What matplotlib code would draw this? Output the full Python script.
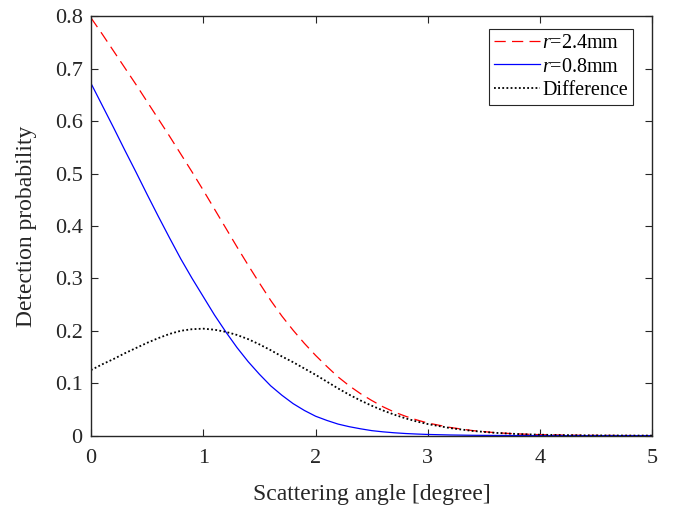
import matplotlib
matplotlib.use("Agg")
import matplotlib.pyplot as plt

plt.rcParams['font.family'] = ['Liberation Serif', 'DejaVu Serif']
plt.rcParams['mathtext.fontset'] = 'custom'
plt.rcParams['mathtext.rm'] = 'Liberation Serif'
plt.rcParams['mathtext.it'] = 'Liberation Serif:italic'

angle = [0.0, 0.1, 0.2, 0.3, 0.4, 0.5, 0.6, 0.7, 0.8, 0.9,
         1.0, 1.1, 1.2, 1.3, 1.4, 1.5, 1.6, 1.7, 1.8, 1.9,
         2.0, 2.1, 2.2, 2.3, 2.4, 2.5, 2.6, 2.7, 2.8, 2.9,
         3.0, 3.2, 3.4, 3.6, 3.8, 4.0, 4.2, 4.4, 4.6, 4.8, 5.0]
prob_r24 = [0.797, 0.766, 0.734, 0.702, 0.670, 0.637, 0.604, 0.571, 0.537, 0.503,
            0.468, 0.432, 0.396, 0.360, 0.325, 0.291, 0.258, 0.228, 0.201, 0.176,
            0.153, 0.132, 0.112, 0.095, 0.080, 0.067, 0.055, 0.045, 0.037, 0.030,
            0.024, 0.0155, 0.0095, 0.0056, 0.0032, 0.0018, 0.0010, 0.0005, 0.0003, 0.0001, 0.0]
prob_r08 = [0.672, 0.630, 0.588, 0.545, 0.503, 0.460, 0.418, 0.377, 0.337, 0.300,
            0.265, 0.230, 0.198, 0.168, 0.141, 0.117, 0.095, 0.077, 0.061, 0.048,
            0.037, 0.029, 0.022, 0.017, 0.013, 0.0095, 0.0072, 0.0054, 0.0040, 0.0030,
            0.0022, 0.0012, 0.0006, 0.0003, 0.00015, 0.0001, 0.00005, 0.0, 0.0, 0.0, 0.0]
prob_diff = [0.125, 0.136, 0.146, 0.157, 0.167, 0.177, 0.186, 0.194, 0.200, 0.203,
             0.204, 0.202, 0.198, 0.192, 0.184, 0.174, 0.163, 0.151, 0.140, 0.128,
             0.116, 0.103, 0.090, 0.078, 0.067, 0.057, 0.048, 0.040, 0.033, 0.027,
             0.022, 0.0143, 0.0089, 0.0053, 0.0030, 0.0017, 0.0010, 0.0005, 0.0003, 0.0001, 0.0]

labels = [r'$\it{r}$=2.4mm', r'$\it{r}$=0.8mm', 'Difference']
xticks = [0, 1, 2, 3, 4, 5]
yticks = [0, 0.1, 0.2, 0.3, 0.4, 0.5, 0.6, 0.7, 0.8]

fig = plt.figure(figsize=(6.77, 5.08), dpi=100)
ax = fig.add_axes([0.1344, 0.1425, 0.8294, 0.8255])

ax.plot(angle, prob_r24, color='#ff0000', linestyle=(0, (9, 5)), linewidth=0.9, label=labels[0])
ax.plot(angle, prob_r08, color='#0000ff', linestyle='-', linewidth=0.9, label=labels[1])
ax.plot(angle, prob_diff, color='black', linestyle=(0, (1, 1.3)), linewidth=1.3, label=labels[2])

ax.set_xlim(0, 5)
ax.set_ylim(0, 0.8)
ax.set_xticks(xticks)
ax.set_xticklabels([str(t) for t in xticks])
ax.set_yticks(yticks)
ax.set_yticklabels(['0'] + [f'{t:.1f}' for t in yticks[1:]])
ax.tick_params(direction='in', top=True, right=True, length=5, width=0.8,
               colors='#262626', labelsize=16, labelcolor='#262626')
ax.tick_params(axis='x', pad=10)
ax.tick_params(axis='y', pad=6)
for s in ax.spines.values():
    s.set_color('#262626')
    s.set_linewidth(1.0)

ax.set_xlabel('Scattering angle [degree]', fontsize=17, color='#262626', labelpad=11)
ax.set_ylabel('Detection probability', fontsize=17, color='#262626', labelpad=13)

leg = ax.legend(loc='upper right', bbox_to_anchor=(0.9653, 0.969), borderaxespad=0,
                fontsize=14.5, frameon=True, fancybox=False,
                edgecolor='#262626', framealpha=1, borderpad=0.25, labelspacing=0.2,
                handlelength=2.3, handletextpad=0.1)
leg.get_frame().set_linewidth(0.8)

fig.savefig('out.png', dpi=100)
